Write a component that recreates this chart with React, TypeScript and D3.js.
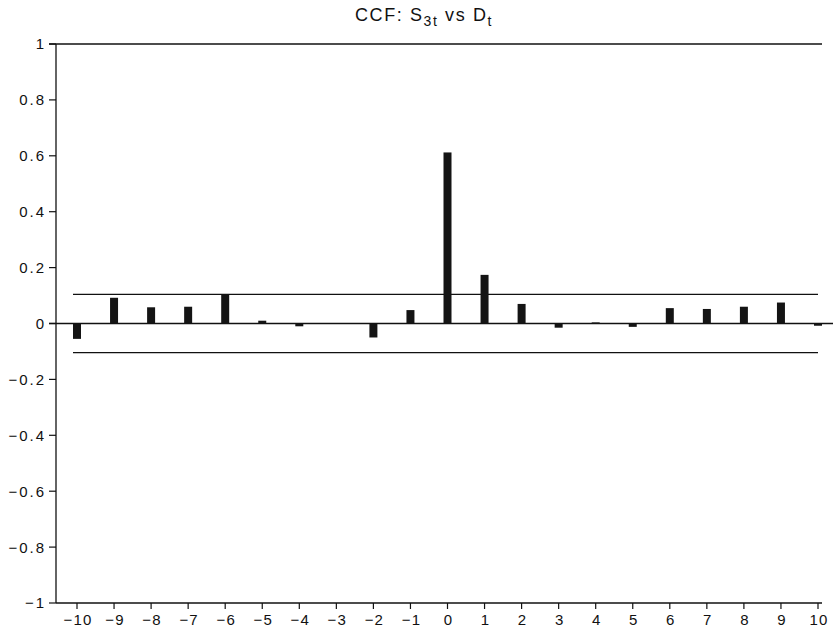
import * as d3 from 'd3';

// lags and cross-correlation values
const lags = [-10, -9, -8, -7, -6, -5, -4, -3, -2, -1, 0, 1, 2, 3, 4, 5, 6, 7, 8, 9, 10];
const ccf = [-0.055, 0.092, 0.058, 0.06, 0.104, 0.01, -0.01, 0.0, -0.05, 0.048, 0.612, 0.174, 0.07, -0.015, 0.004, -0.012, 0.055, 0.052, 0.06, 0.075, -0.008];
const yTicks = [1, 0.8, 0.6, 0.4, 0.2, 0, -0.2, -0.4, -0.6, -0.8, -1];
const band = 0.104;

const W = 833;
const H = 636;

export default function App() {
  const x = d3.scaleLinear().domain([-10, 10]).range([77, 818]);
  const y = d3.scaleLinear().domain([-1, 1]).range([603, 44]);
  const axisX = 56;
  const barW = 8;
  const font = '"Liberation Sans", Arial, sans-serif';
  const fmt = (v: number) => (v === 0 ? '0' : String(v).replace('-', '\u2212'));

  return (
    <svg width={W} height={H} style={{ position: 'absolute', left: 0, top: 0, background: '#fff' }}>
      {/* title */}
      <text x={424} y={21} textAnchor="middle" fontFamily={font} fontSize={18} letterSpacing={1.6} fill="#111">
        CCF: S<tspan dy={5} fontSize={14}>3t</tspan>
        <tspan dy={-5}> vs D</tspan>
        <tspan dy={5} fontSize={14}>t</tspan>
      </text>

      {/* top line at 1 */}
      <line x1={axisX - 7} x2={822} y1={y(1)} y2={y(1)} stroke="#111" strokeWidth={1.3} />
      {/* y axis */}
      <line x1={axisX} x2={axisX} y1={y(1)} y2={y(-1)} stroke="#111" strokeWidth={1.3} />
      {yTicks.map(t => (
        <g key={t}>
          <line x1={axisX - 7} x2={axisX} y1={y(t)} y2={y(t)} stroke="#111" strokeWidth={1.2} />
          <text x={axisX - 10} y={y(t)} dy="0.36em" textAnchor="end" fontFamily={font} fontSize={15} letterSpacing={2} fill="#111">
            {fmt(t)}
          </text>
        </g>
      ))}

      {/* x axis */}
      <line x1={axisX} x2={822} y1={y(-1)} y2={y(-1)} stroke="#111" strokeWidth={1.3} />
      {lags.map(l => (
        <g key={l}>
          <line x1={x(l)} x2={x(l)} y1={y(-1)} y2={y(-1) + 6} stroke="#111" strokeWidth={1.2} />
          <text x={x(l) + 1} y={y(-1) + 17} dy="0.35em" textAnchor="middle" fontFamily={font} fontSize={15} letterSpacing={1.2} fill="#111">
            {fmt(l)}
          </text>
        </g>
      ))}

      {/* zero line and confidence bands */}
      <line x1={axisX - 7} x2={W} y1={y(0)} y2={y(0)} stroke="#111" strokeWidth={1.3} />
      <line x1={x(-10) - 4} x2={x(10)} y1={y(band)} y2={y(band)} stroke="#111" strokeWidth={1.3} />
      <line x1={x(-10) - 4} x2={x(10)} y1={y(-band)} y2={y(-band)} stroke="#111" strokeWidth={1.3} />

      {/* bars */}
      {lags.map((l, i) => (
        <rect
          key={l}
          x={x(l) - barW / 2}
          y={y(Math.max(0, ccf[i]))}
          width={barW}
          height={Math.abs(y(ccf[i]) - y(0))}
          fill="#141414"
        />
      ))}
    </svg>
  );
}
